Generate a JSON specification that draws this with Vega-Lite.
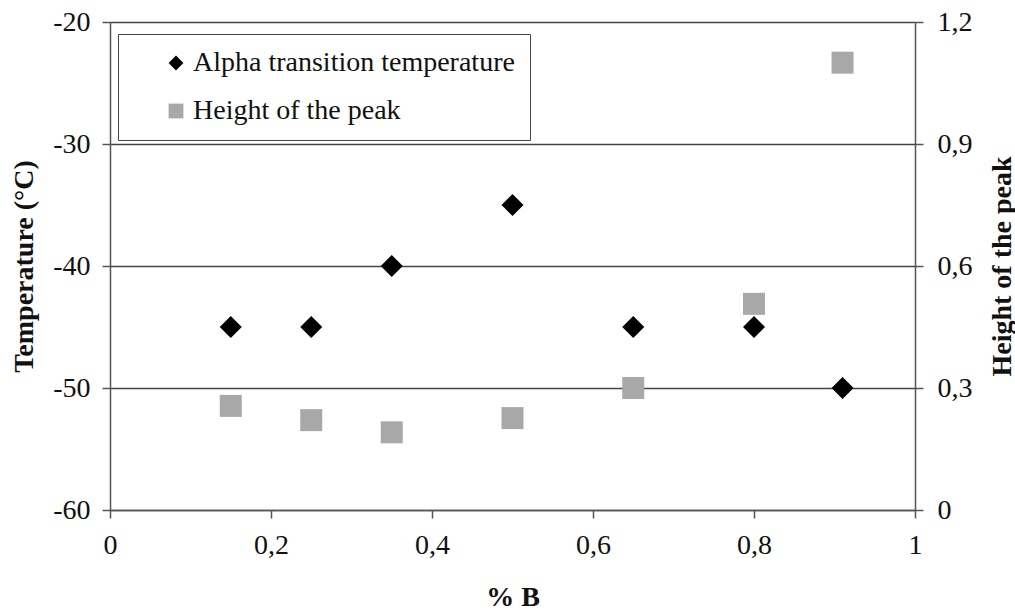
{
  "$schema": "https://vega.github.io/schema/vega-lite/v6.json",
  "width": 805,
  "height": 488,
  "autosize": "none",
  "padding": {"left": 110, "top": 22, "right": 100, "bottom": 104},
  "background": "white",
  "config": {
    "view": {"stroke": null},
    "font": "Liberation Serif",
    "axis": {
      "labelFont": "Liberation Serif",
      "labelFontSize": 28,
      "labelColor": "#111111",
      "titleFont": "Liberation Serif",
      "titleFontSize": 28,
      "titleFontWeight": "bold",
      "titleColor": "#111111",
      "domainColor": "#555555",
      "domainWidth": 1.5,
      "tickColor": "#555555",
      "tickWidth": 1.5,
      "tickSize": 8
    },
    "legend": {
      "orient": "none",
      "legendX": 8,
      "legendY": 12,
      "strokeColor": "#444444",
      "fillColor": "white",
      "padding": 15,
      "labelFont": "Liberation Serif",
      "labelFontSize": 28,
      "labelColor": "#111111",
      "labelOffset": 3,
      "symbolOffset": 29,
      "symbolSize": 220,
      "symbolStrokeWidth": 0,
      "rowPadding": 20,
      "labelLimit": 600
    }
  },
  "data": {
    "values": [
      {"b": 0.15, "series": "Alpha transition temperature", "value": -45},
      {"b": 0.25, "series": "Alpha transition temperature", "value": -45},
      {"b": 0.35, "series": "Alpha transition temperature", "value": -40},
      {"b": 0.5, "series": "Alpha transition temperature", "value": -35},
      {"b": 0.65, "series": "Alpha transition temperature", "value": -45},
      {"b": 0.8, "series": "Alpha transition temperature", "value": -45},
      {"b": 0.91, "series": "Alpha transition temperature", "value": -50},
      {"b": 0.15, "series": "Height of the peak", "value": 0.256},
      {"b": 0.25, "series": "Height of the peak", "value": 0.221},
      {"b": 0.35, "series": "Height of the peak", "value": 0.191},
      {"b": 0.5, "series": "Height of the peak", "value": 0.226},
      {"b": 0.65, "series": "Height of the peak", "value": 0.3},
      {"b": 0.8, "series": "Height of the peak", "value": 0.507},
      {"b": 0.91, "series": "Height of the peak", "value": 1.1}
    ]
  },
  "encoding": {
    "x": {
      "field": "b",
      "type": "quantitative",
      "scale": {"domain": [0, 1], "nice": false, "zero": false},
      "axis": {
        "title": "% B",
        "values": [0, 0.2, 0.4, 0.6, 0.8, 1],
        "grid": false,
        "labelFont": "Liberation Serif",
        "labelExpr": "datum.value == 0 ? '0' : datum.value == 1 ? '1' : replace(format(datum.value, '.1f'), '.', ',')",
        "labelPadding": 13,
        "titlePadding": 24,
        "labelFlush": false
      }
    },
    "color": {
      "field": "series",
      "type": "nominal",
      "scale": {"domain": ["Alpha transition temperature", "Height of the peak"], "range": ["#000000", "#a8a8a8"]},
      "legend": {"title": null}
    },
    "shape": {
      "field": "series",
      "type": "nominal",
      "scale": {"domain": ["Alpha transition temperature", "Height of the peak"], "range": ["diamond", "square"]},
      "legend": {"title": null}
    }
  },
  "layer": [
    {
      "transform": [{"filter": "datum.series == 'Alpha transition temperature'"}],
      "mark": {"type": "point", "filled": true, "opacity": 1, "size": 484},
      "encoding": {
        "y": {
          "field": "value",
          "type": "quantitative",
          "scale": {"domain": [-60, -20], "nice": false, "zero": false},
          "axis": {
            "orient": "left",
            "title": "Temperature (°C)",
            "values": [-60, -50, -40, -30, -20],
            "grid": true,
            "gridColor": "#444444",
            "gridWidth": 1.5,
            "labelFont": "Liberation Serif",
            "labelExpr": "datum.value < 0 ? '-' + abs(datum.value) : '' + datum.value",
            "labelPadding": 12,
            "titlePadding": 14,
            "labelFlush": false
          }
        }
      }
    },
    {
      "transform": [{"filter": "datum.series == 'Height of the peak'"}],
      "mark": {"type": "point", "filled": true, "opacity": 1, "size": 484},
      "encoding": {
        "y": {
          "field": "value",
          "type": "quantitative",
          "scale": {"domain": [0, 1.2], "nice": false, "zero": false},
          "axis": {
            "orient": "right",
            "title": "Height of the peak",
            "values": [0, 0.3, 0.6, 0.9, 1.2],
            "grid": false,
            "labelFont": "Liberation Serif",
            "labelExpr": "datum.value == 0 ? '0' : replace(format(datum.value, '.1f'), '.', ',')",
            "labelPadding": 14,
            "titlePadding": 16,
            "titleAngle": 270,
            "titleBaseline": "top",
            "labelFlush": false
          }
        }
      }
    }
  ],
  "resolve": {"scale": {"y": "independent"}}
}
